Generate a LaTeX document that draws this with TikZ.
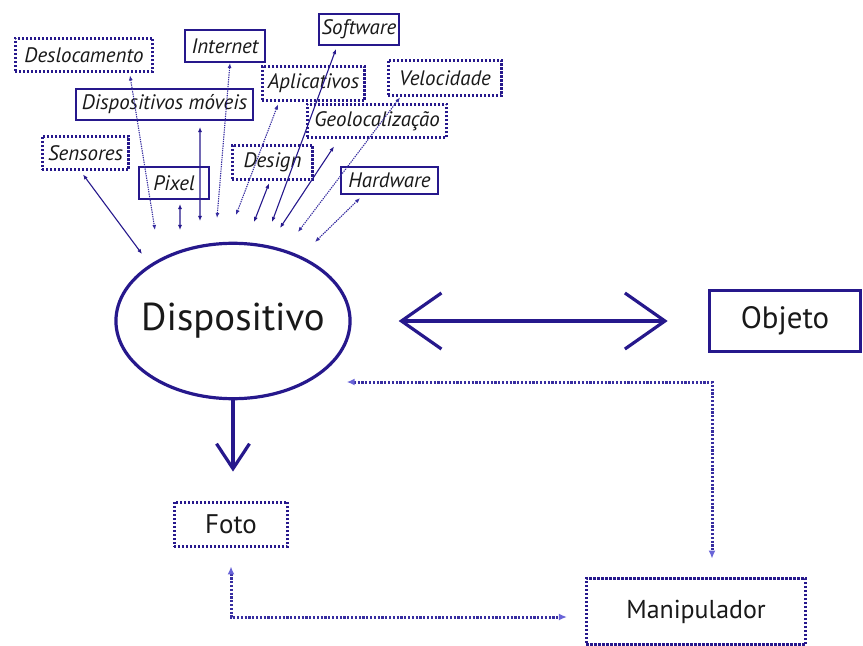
\documentclass[tikz,border=0pt]{standalone}
\usepackage{fontspec}
\setmainfont{PT Sans}
\usetikzlibrary{arrows.meta,shapes.geometric}
\definecolor{navy}{RGB}{38,24,140}
\definecolor{lnavy}{RGB}{55,45,160}
\definecolor{tipblue}{RGB}{105,100,215}
\definecolor{txt}{RGB}{25,25,25}
\begin{document}
\begin{tikzpicture}[x=1bp,y=-1bp,
  lbl/.style={inner sep=0pt, font=\itshape\fontsize{21}{24}\selectfont, text=txt},
  solidbox/.style={lbl, draw=navy, line width=2.2bp},
  dotbox/.style={lbl, draw=navy, line width=3bp, dash pattern=on 2.2bp off 1.8bp},
  bigbox/.style={inner sep=0pt, font=\fontsize{26}{30}\selectfont, text=txt},
  fan/.style={navy, line width=1.1bp, {Latex[length=5bp,width=4bp,fill=tipblue]}-{Latex[length=5bp,width=4bp,fill=tipblue]}},
  fandot/.style={fan, lnavy, dash pattern=on 1.3bp off 1bp},
  bigarrow/.style={navy, line width=3.2bp},
  linkdot/.style={lnavy, line width=3bp, dash pattern=on 2.2bp off 1.6bp,
    {Latex[length=8bp,width=7bp,fill=tipblue,color=tipblue]}-{Latex[length=8bp,width=7bp,fill=tipblue,color=tipblue]}}
]
\useasboundingbox (0,0) rectangle (863,646);

% top label boxes
\node[dotbox,   minimum width=138, minimum height=34] (desl) at (84,55)      {Deslocamento};
\node[solidbox, minimum width=80,  minimum height=32] (inet) at (225,46)     {Internet};
\node[solidbox, minimum width=80,  minimum height=31] (soft) at (359,29.5)   {Software};
\node[dotbox,   minimum width=103, minimum height=35] (apl)  at (313.5,83.5) {Aplicativos};
\node[dotbox,   minimum width=114, minimum height=36] (vel)  at (445,78)     {Velocidade};
\node[solidbox, minimum width=177, minimum height=31] (dmov) at (164.5,104.5){Dispositivos móveis};
\node[dotbox,   minimum width=140, minimum height=34] (geo)  at (377,121)    {Geolocalização};
\node[dotbox,   minimum width=87,  minimum height=34] (sens) at (85.5,153)   {Sensores};
\node[solidbox, minimum width=70,  minimum height=32] (pix)  at (174,183)    {Pixel};
\node[dotbox,   minimum width=81,  minimum height=35] (des)  at (272.5,162.5){Design};
\node[solidbox, minimum width=97,  minimum height=27] (hard) at (389.5,180.5){Hardware};

% main nodes
\node[ellipse, draw=navy, line width=3.2bp, minimum width=235, minimum height=156, inner sep=0pt,
      font=\fontsize{39}{44}\selectfont, text=txt] (disp) at (233,321) {\makebox[0pt]{Dispositivo}};
\node[bigbox, font=\fontsize{31}{36}\selectfont, draw=navy, line width=3.2bp, minimum width=152, minimum height=62] (obj) at (785,321) {Objeto};
\node[bigbox, font=\fontsize{27}{32}\selectfont, draw=navy, line width=3bp, dash pattern=on 2.2bp off 1.8bp, minimum width=114, minimum height=45] (foto) at (231,524.5) {Foto};
\node[bigbox, draw=navy, line width=3bp, dash pattern=on 2.2bp off 1.8bp, minimum width=220, minimum height=67] (man) at (696,611.5) {Manipulador};

% fan end points near the ellipse
\coordinate (eDesl) at (155,230);
\coordinate (eInet) at (217,218);
\coordinate (eSoft) at (272,222);
\coordinate (eApl)  at (236,215);
\coordinate (eVel)  at (298,232);
\coordinate (eDmov) at (200,221);
\coordinate (eGeo)  at (280,228);
\coordinate (eSens) at (142,254);
\coordinate (ePix)  at (180,230);
\coordinate (eDes)  at (254,222);
\coordinate (eHard) at (315,242);

% fan connectors
\draw[fandot] ([xshift=46bp,yshift=-2bp]desl.south) -- (eDesl);
\draw[fandot] ([xshift=5bp]inet.south) -- (eInet);
\draw[fan]    ([xshift=-23bp,yshift=-3bp]soft.south) -- (eSoft);
\draw[fandot] ([xshift=-35.5bp,yshift=-2bp]apl.south) -- (eApl);
\draw[fandot] ([xshift=-45bp]vel.south) -- (eVel);
\draw[fan]    ([xshift=35.5bp,yshift=-6bp]dmov.south) -- (eDmov);
\draw[fan]    ([xshift=-43bp,yshift=-7bp]geo.south) -- (eGeo);
\draw[fan]    ([xshift=-2.5bp,yshift=-3bp]sens.south) -- (eSens);
\draw[fan]    ([xshift=6bp,yshift=-4bp]pix.south) -- (ePix);
\draw[fan]    ([xshift=-3.5bp,yshift=-2bp]des.south) -- (eDes);
\draw[fandot] ([xshift=-29.5bp,yshift=-3bp]hard.south) -- (eHard);

% big arrows
\draw[bigarrow, {Straight Barb[length=40bp,width=56bp]}-{Straight Barb[length=40bp,width=56bp]},
      shorten <=47bp, shorten >=40bp] (disp.east) -- (obj.west);
\draw[bigarrow, -{Straight Barb[length=25bp,width=33bp]}, shorten >=29bp]
      (disp.south) -- (disp.south |- foto.north);

% dotted links
\draw[linkdot] (disp.east) ++(-5,61) -| ([xshift=16bp,yshift=18bp]man.north);
\draw[linkdot] ([yshift=-18bp]foto.south) |- ([xshift=-18bp,yshift=-5.5bp]man.west);
\end{tikzpicture}
\end{document}
